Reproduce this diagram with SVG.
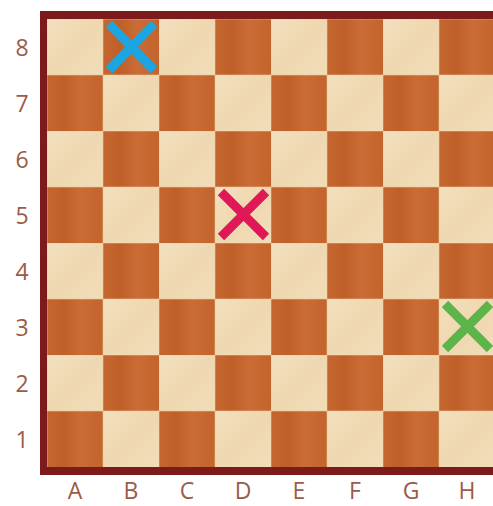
<svg xmlns="http://www.w3.org/2000/svg" width="493" height="506" viewBox="0 0 493 506">
<defs>
<linearGradient id="lt" x1="0" y1="0" x2="1" y2="1">
<stop offset="0" stop-color="#f3e0bf"/><stop offset="0.5" stop-color="#efd8b0"/><stop offset="1" stop-color="#f2ddb9"/>
</linearGradient>
<linearGradient id="dk" x1="0" y1="0" x2="1" y2="0">
<stop offset="0" stop-color="#c6662f"/><stop offset="0.3" stop-color="#bf5f2a"/><stop offset="0.6" stop-color="#ca6c36"/><stop offset="1" stop-color="#c3642d"/>
</linearGradient>
<pattern id="board" x="47" y="19" width="112" height="112" patternUnits="userSpaceOnUse">
<rect x="0" y="0" width="56" height="56" fill="url(#lt)"/>
<rect x="56" y="0" width="56" height="56" fill="url(#dk)"/>
<rect x="0" y="56" width="56" height="56" fill="url(#dk)"/>
<rect x="56" y="56" width="56" height="56" fill="url(#lt)"/>
<path d="M56 0V112M0 56H112M0 0V112M0 0H112" stroke="#e9c79a" stroke-width="1" fill="none" opacity="0.6"/>
</pattern>
<style>
.lbl{font-family:"Open Sans","Liberation Sans",sans-serif;font-size:23px;fill:#9b5b48;text-anchor:middle}
.x{stroke-width:9;stroke-linecap:butt;fill:none}
</style>
</defs>
<rect width="493" height="506" fill="#ffffff"/>
<g id="board-frame">
<rect x="40" y="11" width="470" height="464" fill="#7c1a1c"/>
<rect x="47" y="19" width="448" height="448" fill="url(#board)"/>
</g>
<g id="rank-labels">
<text class="lbl" x="22" y="56">8</text>
<text class="lbl" x="22" y="112">7</text>
<text class="lbl" x="22" y="168">6</text>
<text class="lbl" x="22" y="224">5</text>
<text class="lbl" x="22" y="280">4</text>
<text class="lbl" x="22" y="336">3</text>
<text class="lbl" x="22" y="392">2</text>
<text class="lbl" x="22" y="448">1</text>
</g>
<g id="file-labels">
<text class="lbl" x="75" y="499">A</text>
<text class="lbl" x="131" y="499">B</text>
<text class="lbl" x="187" y="499">C</text>
<text class="lbl" x="243" y="499">D</text>
<text class="lbl" x="299" y="499">E</text>
<text class="lbl" x="355" y="499">F</text>
<text class="lbl" x="411" y="499">G</text>
<text class="lbl" x="467" y="499">H</text>
</g>
<g id="mark-b8" class="x" stroke="#1ba6e2">
<path d="M109 24L154 70M154 24L109 70"/>
</g>
<g id="mark-d5" class="x" stroke="#e01858">
<path d="M221 192L266 237M266 192L221 237"/>
</g>
<g id="mark-h3" class="x" stroke="#5cb548">
<path d="M445 304L490 349M490 304L445 349"/>
</g>
</svg>
